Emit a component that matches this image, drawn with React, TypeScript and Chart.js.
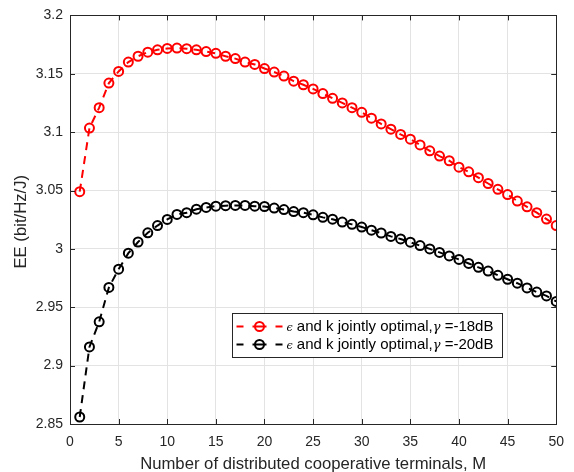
import React, { useEffect, useRef } from "react";
import { Chart, registerables } from "chart.js";

Chart.register(...registerables);

const M = [1, 2, 3, 4, 5, 6, 7, 8, 9, 10, 11, 12, 13, 14, 15, 16, 17, 18, 19, 20, 21, 22, 23, 24, 25, 26, 27, 28, 29, 30, 31, 32, 33, 34, 35, 36, 37, 38, 39, 40, 41, 42, 43, 44, 45, 46, 47, 48, 49, 50];

const EE_18dB = [
  3.049, 3.1035, 3.121, 3.142, 3.152, 3.16, 3.165, 3.1685, 3.1705, 3.1717,
  3.172, 3.1715, 3.1705, 3.169, 3.1675, 3.165, 3.163, 3.16, 3.158, 3.1545,
  3.1515, 3.148, 3.1437, 3.1406, 3.137, 3.133, 3.129, 3.125, 3.121, 3.117,
  3.112, 3.107, 3.1025, 3.098, 3.094, 3.089, 3.084, 3.0795, 3.0755, 3.07,
  3.066, 3.061, 3.056, 3.051, 3.0465, 3.041, 3.036, 3.031, 3.0255, 3.02,
];

const EE_20dB = [
  2.856, 2.916, 2.9375, 2.967, 2.9826, 2.9963, 3.0059, 3.0138, 3.02, 3.0252,
  3.0295, 3.031, 3.034, 3.0355, 3.0366, 3.037, 3.0372, 3.0372, 3.0366, 3.0363,
  3.035, 3.0337, 3.032, 3.031, 3.0292, 3.027, 3.0254, 3.023, 3.021, 3.0187,
  3.016, 3.0136, 3.0107, 3.0085, 3.0057, 3.0028, 3.0, 2.997, 2.994, 2.991,
  2.9875, 2.9842, 2.981, 2.9774, 2.974, 2.9706, 2.9666, 2.963, 2.9597, 2.955,
];

const X_TICKS = [0, 5, 10, 15, 20, 25, 30, 35, 40, 45, 50];
const Y_TICKS = [2.85, 2.9, 2.95, 3.0, 3.05, 3.1, 3.15, 3.2];

const SERIES_LABELS = ["-18dB", "-20dB"];
const SERIES_COLORS = ["#ff0000", "#000000"];
const X_TITLE = "Number of distributed cooperative terminals, M";
const Y_TITLE = "EE (bit/Hz/J)";

const FONT = '"Liberation Sans", Arial, Helvetica, sans-serif';
const AXIS_COLOR = "#262626";

const decorPlugin = {
  id: "decor",
  afterDraw(chart: any) {
    const { ctx, chartArea: ca, scales } = chart;
    const xs = scales.x;
    const ys = scales.y;
    ctx.save();
    // box
    ctx.strokeStyle = AXIS_COLOR;
    ctx.lineWidth = 1;
    ctx.setLineDash([]);
    ctx.strokeRect(Math.round(ca.left) + 0.5, Math.round(ca.top) + 0.5, Math.round(ca.right - ca.left), Math.round(ca.bottom - ca.top));
    // inward ticks
    const tl = 5;
    ctx.beginPath();
    X_TICKS.forEach((v) => {
      const px = Math.round(xs.getPixelForValue(v)) + 0.5;
      ctx.moveTo(px, ca.bottom);
      ctx.lineTo(px, ca.bottom - tl);
      ctx.moveTo(px, ca.top);
      ctx.lineTo(px, ca.top + tl);
    });
    Y_TICKS.forEach((v) => {
      const py = Math.round(ys.getPixelForValue(v)) + 0.5;
      ctx.moveTo(ca.left, py);
      ctx.lineTo(ca.left + tl, py);
      ctx.moveTo(ca.right, py);
      ctx.lineTo(ca.right - tl, py);
    });
    ctx.stroke();

    // axis titles
    ctx.fillStyle = AXIS_COLOR;
    ctx.font = `16.7px ${FONT}`;
    ctx.textAlign = "center";
    ctx.textBaseline = "middle";
    ctx.fillText(X_TITLE, (ca.left + ca.right) / 2, ca.bottom + 40);
    ctx.save();
    ctx.translate(ca.left - 49, (ca.top + ca.bottom) / 2 + 2);
    ctx.rotate(-Math.PI / 2);
    ctx.fillText(Y_TITLE, 0, 0);
    ctx.restore();

    // legend
    const lx = Math.round(ca.left + 162) + 0.5;
    const ly = Math.round(ca.top + 298) + 0.5;
    const lw = 270;
    const lh = 44;
    ctx.fillStyle = "#ffffff";
    ctx.fillRect(lx, ly, lw, lh);
    ctx.strokeStyle = AXIS_COLOR;
    ctx.lineWidth = 1;
    ctx.strokeRect(lx, ly, lw, lh);
    SERIES_LABELS.forEach((lab, i) => {
      const cy = ly + 13 + i * 18;
      const color = SERIES_COLORS[i];
      ctx.strokeStyle = color;
      ctx.lineWidth = 2;
      ctx.beginPath();
      ctx.moveTo(lx + 4, cy);
      ctx.lineTo(lx + 11, cy);
      ctx.moveTo(lx + 20, cy);
      ctx.lineTo(lx + 34, cy);
      ctx.moveTo(lx + 43, cy);
      ctx.lineTo(lx + 50, cy);
      ctx.stroke();
      ctx.beginPath();
      ctx.arc(lx + 27, cy, 4.5, 0, Math.PI * 2);
      ctx.stroke();
      // text
      ctx.fillStyle = "#000000";
      ctx.textAlign = "left";
      ctx.textBaseline = "middle";
      let tx = lx + 54;
      ctx.font = `italic 11px "DejaVu Serif", serif`;
      ctx.fillText("\u03F5", tx, cy + 2);
      tx += ctx.measureText("\u03F5").width;
      ctx.font = `15px ${FONT}`;
      const t1 = " and k jointly optimal,";
      ctx.fillText(t1, tx, cy);
      tx += ctx.measureText(t1).width;
      ctx.font = `italic 13px "DejaVu Serif", serif`;
      ctx.fillText("\u03B3", tx, cy + 1);
      tx += ctx.measureText("\u03B3").width;
      ctx.font = `15px ${FONT}`;
      ctx.fillText(" =" + lab, tx, cy);
    });
    ctx.restore();
  },
};

export default function App() {
  const ref = useRef<HTMLCanvasElement | null>(null);
  useEffect(() => {
    if (!ref.current) return;
    const mk = (vals: number[], color: string, label: string) => ({
      label,
      data: M.map((m, i) => ({ x: m, y: vals[i] })),
      borderColor: color,
      backgroundColor: "transparent",
      borderWidth: 2,
      borderDash: [8, 6],
      pointRadius: 4.5,
      pointBorderWidth: 2,
      pointBorderColor: color,
      pointBackgroundColor: "rgba(0,0,0,0)",
      pointStyle: "circle",
      tension: 0,
      fill: false,
    });
    const chart = new Chart(ref.current, {
      type: "line",
      data: {
        datasets: [
          mk(EE_18dB, SERIES_COLORS[0], SERIES_LABELS[0]),
          mk(EE_20dB, SERIES_COLORS[1], SERIES_LABELS[1]),
        ],
      },
      options: {
        animation: false,
        responsive: false,
        devicePixelRatio: 1,
        layout: { padding: { top: 15, right: 17, left: 0, bottom: 0 } },
        plugins: { legend: { display: false }, tooltip: { enabled: false } },
        scales: {
          x: {
            type: "linear",
            min: 0,
            max: 50,
            afterBuildTicks: (s: any) => {
              s.ticks = X_TICKS.map((v) => ({ value: v }));
            },
            afterFit: (s: any) => {
              s.height = 48;
            },
            grid: { color: "#e3e3e3", drawTicks: false },
            border: { display: false },
            ticks: {
              padding: 10,
              color: AXIS_COLOR,
              font: { family: FONT, size: 14 },
              maxRotation: 0,
              callback: (v: any) => String(v),
            },
          },
          y: {
            type: "linear",
            min: 2.85,
            max: 3.2,
            afterBuildTicks: (s: any) => {
              s.ticks = Y_TICKS.map((v) => ({ value: v }));
            },
            afterFit: (s: any) => {
              s.width = 70;
            },
            grid: { color: "#e3e3e3", drawTicks: false },
            border: { display: false },
            ticks: {
              padding: 7,
              color: AXIS_COLOR,
              font: { family: FONT, size: 14 },
              callback: (v: any) => String(Number(Number(v).toFixed(2))),
            },
          },
        },
      },
      plugins: [decorPlugin],
    } as any);
    return () => chart.destroy();
  }, []);
  return (
    <div style={{ position: "absolute", left: 0, top: 0, width: 574, height: 472, background: "#fff" }}>
      <canvas ref={ref} width={574} height={472} style={{ display: "block", width: 574, height: 472 }} />
    </div>
  );
}
